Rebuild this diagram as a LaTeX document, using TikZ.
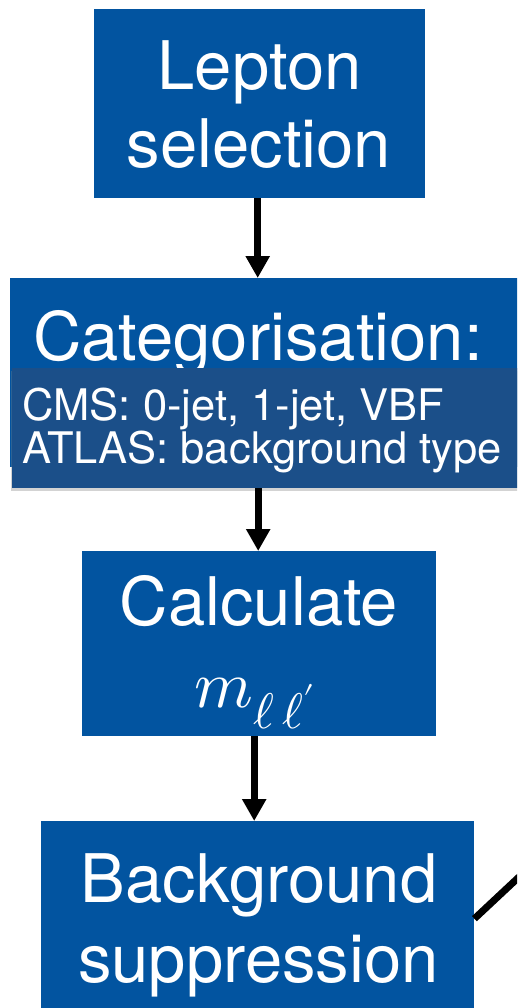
\documentclass[tikz,border=0pt]{standalone}
\usepackage{fontspec}
\usepackage{unicode-math}
\setmainfont{TeX Gyre Heros}
\setmathfont{Latin Modern Math}
\usetikzlibrary{arrows.meta,shadows}
\definecolor{boxblue}{HTML}{0254A0}
\definecolor{ovlblue}{HTML}{1B4F89}
\begin{document}
\begin{tikzpicture}[x=1pt,y=-1pt,
  box/.style={fill=boxblue, draw=none, inner sep=0pt, anchor=north west},
  big/.style={text=white, font=\fontsize{67}{79}\selectfont, inner sep=0pt, anchor=base},
  small/.style={text=white, font=\fontsize{43.5}{45}\selectfont, inner sep=0pt, anchor=base west},
  flow/.style={line width=7pt, -{Triangle[width=23pt,length=22pt]}},
  link/.style={line width=7pt}
]
\useasboundingbox (0,0) rectangle (517,1008);
\clip (0,0) rectangle (517,1008);

% Lepton selection
\node[box, minimum width=331pt, minimum height=189pt] (lep) at (94,9) {};
\node[big] (t1) at (259.5,90) {Lepton};
\node[big] (t2) at (259,168) {selection};

% Categorisation
\node[box, minimum width=530pt, minimum height=189pt] (cat) at (10,278) {};
\node[big] (t3) at (258,360) {Categorisation:};
\node[box, fill=ovlblue, minimum width=530pt, minimum height=120pt,
      drop shadow={shadow xshift=-1.5pt, shadow yshift=-3pt, opacity=0.35}] (ovl) at (12,368) {};
\node[small] (t4) at (22,420) {CMS: 0-jet, 1-jet, VBF};
\node[small] (t5) at (22,463) {ATLAS: background type};

% Calculate
\node[box, minimum width=354pt, minimum height=185pt] (calc) at (82,551) {};
\node[big] (t6) at (259,625) {Calculate};
\node[big] (t7) at (255,707) {$m_{\mbox{\fontsize{50}{50}\selectfont$\ell\,\ell'$}}$};

% Background suppression
\node[box, minimum width=433pt, minimum height=195pt] (bg) at (41,821) {};
\node[big] (t8) at (259,902) {Background};
\node[big] (t9) at (258.5,982) {suppression};

% connectors
\draw[flow] ([xshift=-2pt]lep.south) -- ([xshift=-2pt]lep.south |- cat.north);
\draw[flow] ([xshift=-1pt]calc.north |- ovl.south) -- ([xshift=-1pt]calc.north);
\draw[flow] ([xshift=-5pt]calc.south) -- ([xshift=-5pt]calc.south |- bg.north);
\coordinate (lend) at (535,862);
\draw[link] (bg.east) -- (lend);
\end{tikzpicture}
\end{document}
